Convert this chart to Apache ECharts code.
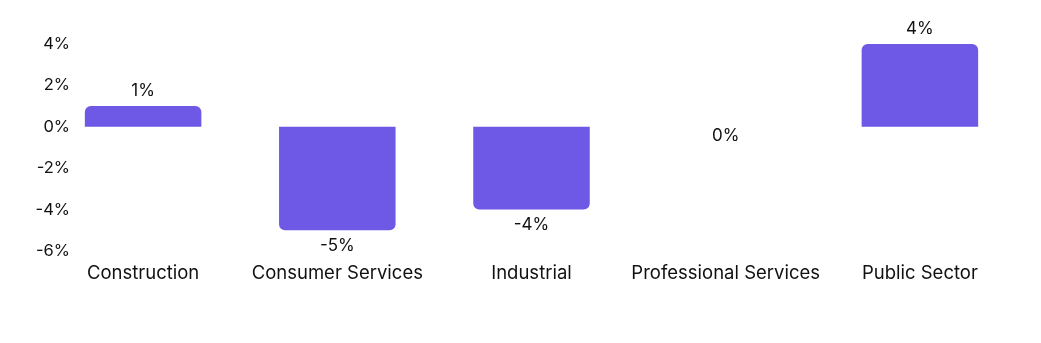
<!DOCTYPE html>
<html>
<head>
<meta charset="utf-8">
<script src="https://cdn.jsdelivr.net/npm/echarts@6/dist/echarts.min.js"></script>
<style>html,body{margin:0;padding:0;background:#fff}#c{width:1041px;height:343px}</style>
</head>
<body>
<div id="c"></div>
<script>
const categories = ["Construction", "Consumer Services", "Industrial", "Professional Services", "Public Sector"];
const values = [1, -5, -4, 0, 4];
const yTicks = [-6, -4, -2, 0, 2, 4];

const chart = echarts.init(document.getElementById('c'), null, {renderer: 'canvas'});
const FONT = 'Inter';
chart.setOption({
  animation: false,
  grid: {left: 46, right: 24, top: 44, bottom: 92, containLabel: false},
  xAxis: {
    type: 'category',
    data: categories,
    axisLine: {show: false},
    axisTick: {show: false},
    axisLabel: {color: '#111', fontFamily: FONT, fontSize: 18.5, margin: 13, interval: 0}
  },
  yAxis: {
    type: 'value',
    min: yTicks[0],
    max: yTicks[yTicks.length - 1],
    interval: 2,
    splitLine: {show: false},
    axisLine: {show: false},
    axisTick: {show: false},
    axisLabel: {color: '#111', fontFamily: FONT, fontSize: 16.5, margin: -24,
      formatter: v => v + '%'}
  },
  series: [{
    type: 'bar',
    barWidth: '60%',
    data: values.map(v => ({
      value: v,
      itemStyle: {borderRadius: v >= 0 ? [6, 6, 0, 0] : [0, 0, 6, 6]},
      label: {position: v > 0 ? 'top' : 'bottom', distance: v === 0 ? 1 : 7}
    })),
    itemStyle: {color: '#6E59E6'},
    label: {show: true, color: '#111', fontFamily: FONT, fontSize: 17,
      formatter: p => Math.round(p.value) + '%'}
  }]
});
</script>
</body>
</html>
